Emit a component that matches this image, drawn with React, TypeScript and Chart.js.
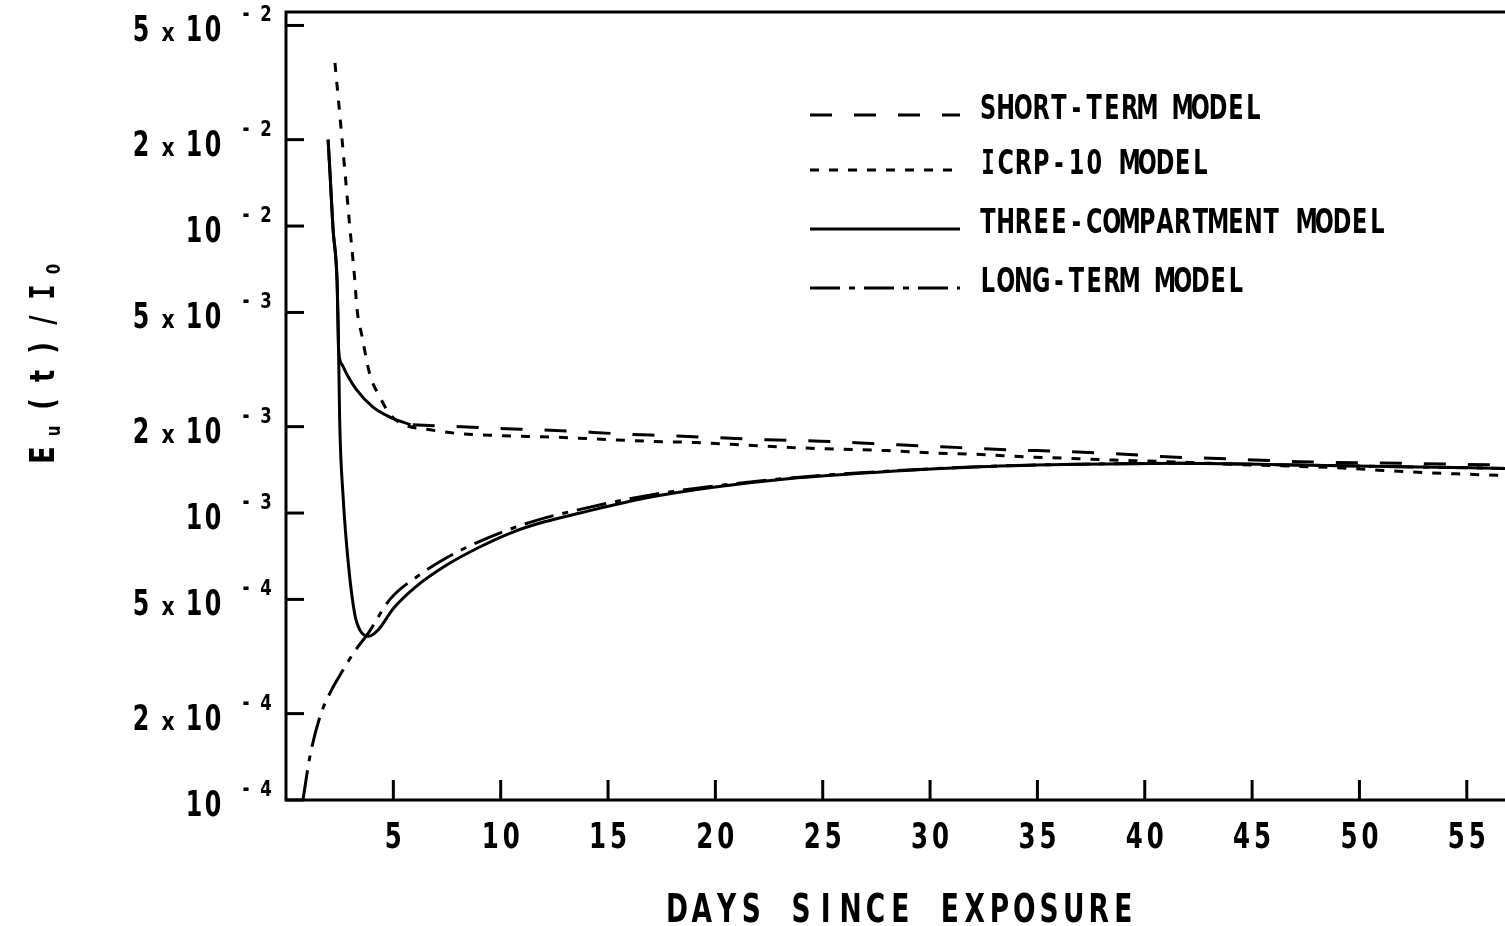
import React, { useEffect, useRef } from "react";
import { Chart, registerables } from "chart.js";

Chart.register(...registerables);

// ---------------- data ----------------
const xTickValues = [5, 10, 15, 20, 25, 30, 35, 40, 45, 50, 55];
const yTickValues = [1e-4, 2e-4, 5e-4, 1e-3, 2e-3, 5e-3, 1e-2, 2e-2, 5e-2];
const yTickMantissas = ["", "2", "5", "", "2", "5", "", "2", "5"];
const yTickExponents = ["4", "4", "4", "3", "3", "3", "2", "2", "2"];

const xTitle = "DAYS SINCE EXPOSURE";

const shortTermDays = [5.9, 8.7, 10.9, 13.2, 15.4, 17.7, 20.1, 22.4, 24.9, 27.0, 29.2, 31.4, 33.7, 36.2, 38.6, 41.0, 43.4, 47.2, 52.0, 56.8];
const shortTermValues = [2.03e-3, 1.99e-3, 1.96e-3, 1.93e-3, 1.89e-3, 1.86e-3, 1.83e-3, 1.8e-3, 1.78e-3, 1.75e-3, 1.72e-3, 1.69e-3, 1.66e-3, 1.64e-3, 1.61e-3, 1.57e-3, 1.55e-3, 1.51e-3, 1.49e-3, 1.47e-3];

const icrpDays = [2.28, 2.52, 2.75, 2.98, 3.21, 3.3, 3.55, 3.9, 4.38, 4.84, 5.45, 6.71, 8.1, 10.1, 12.3, 14.5, 16.8, 19.1, 21.1, 23.6, 25.8, 28.0, 30.1, 32.4, 34.4, 36.5, 38.5, 41.0, 45.0, 48.8, 52.4, 56.8];
const icrpValues = [3.7e-2, 2.38e-2, 1.53e-2, 9.8e-3, 6.4e-3, 5.2e-3, 4.1e-3, 3.05e-3, 2.53e-3, 2.21e-3, 2.04e-3, 1.95e-3, 1.89e-3, 1.86e-3, 1.84e-3, 1.81e-3, 1.78e-3, 1.76e-3, 1.73e-3, 1.69e-3, 1.67e-3, 1.65e-3, 1.62e-3, 1.6e-3, 1.57e-3, 1.55e-3, 1.53e-3, 1.51e-3, 1.47e-3, 1.44e-3, 1.39e-3, 1.35e-3];

const threeCompDays = [1.96, 2.05, 2.19, 2.38, 2.43, 2.5, 2.66, 2.9, 3.2, 3.45, 3.85, 4.3, 5.0, 6.0, 7.5, 9.0, 10.6, 12.0, 13.7, 16.8, 19.9, 23.5, 27.7, 32.3, 37.0, 41.6, 47.0, 52.0, 56.8];
const threeCompValues = [2.0e-2, 1.53e-2, 9.8e-3, 6.4e-3, 4.6e-3, 2.1e-3, 1.14e-3, 6.7e-4, 4.45e-4, 3.9e-4, 3.72e-4, 3.92e-4, 4.65e-4, 5.5e-4, 6.6e-4, 7.6e-4, 8.6e-4, 9.3e-4, 1.0e-3, 1.13e-3, 1.23e-3, 1.32e-3, 1.39e-3, 1.45e-3, 1.48e-3, 1.49e-3, 1.47e-3, 1.45e-3, 1.43e-3];

const threeCompBranchDays = [1.96, 2.05, 2.19, 2.38, 2.45, 2.6, 2.84, 3.3, 4.05, 4.84, 5.8];
const threeCompBranchValues = [2.0e-2, 1.53e-2, 9.8e-3, 6.4e-3, 3.7e-3, 3.3e-3, 3.04e-3, 2.68e-3, 2.34e-3, 2.16e-3, 2.03e-3];

const longTermDays = [0.79, 1.1, 1.58, 2.1, 2.65, 3.2, 3.82, 4.84, 6.24, 7.5, 9.0, 11.4, 13.7, 16.8, 19.9, 23.5, 27.7, 32.3, 37.0, 41.6, 47.0, 52.0, 56.8];
const longTermValues = [1.0e-4, 1.4e-4, 1.95e-4, 2.4e-4, 2.83e-4, 3.3e-4, 3.8e-4, 5.0e-4, 6.1e-4, 7.0e-4, 7.95e-4, 9.3e-4, 1.03e-3, 1.15e-3, 1.24e-3, 1.325e-3, 1.395e-3, 1.45e-3, 1.48e-3, 1.49e-3, 1.47e-3, 1.45e-3, 1.43e-3];

const legendLabels = ["SHORT-TERM MODEL", "ICRP-10 MODEL", "THREE-COMPARTMENT MODEL", "LONG-TERM MODEL"];

// ---------------- drawing helpers ----------------
const FONT = "'DejaVu Sans', 'Liberation Sans', Arial, sans-serif";
const SERIF_I_FONT = "'DejaVu Sans Mono', 'Liberation Mono', monospace";

function drawChars(
  ctx: CanvasRenderingContext2D,
  text: string,
  cx0: number,
  baseline: number,
  pitch: number,
  size: number,
  sx: number,
  serifI = false
) {
  ctx.textAlign = "center";
  ctx.textBaseline = "alphabetic";
  for (let i = 0; i < text.length; i++) {
    const ch = text[i];
    if (ch === " ") continue;
    ctx.font = serifI && ch === "I" ? `bold ${size}px ${SERIF_I_FONT}` : `bold ${size}px ${FONT}`;
    ctx.save();
    ctx.translate(cx0 + i * pitch, baseline);
    ctx.scale(sx, 1);
    ctx.fillText(ch, 0, 0);
    ctx.restore();
  }
}

const pts = (days: number[], vals: number[]) => days.map((d, i) => ({ x: d, y: vals[i] }));

const decorations = {
  id: "decorations",
  afterDraw(chart: any) {
    const ctx: CanvasRenderingContext2D = chart.ctx;
    const xs = chart.scales.x;
    const ys = chart.scales.y;
    const { left, right, top, bottom } = chart.chartArea;
    ctx.save();
    ctx.strokeStyle = "#000";
    ctx.fillStyle = "#000";
    ctx.lineWidth = 3;
    ctx.setLineDash([]);
    // frame (top, left, bottom)
    ctx.beginPath();
    ctx.moveTo(right, top);
    ctx.lineTo(left, top);
    ctx.lineTo(left, bottom);
    ctx.lineTo(right, bottom);
    ctx.stroke();

    // y ticks + labels
    yTickValues.forEach((v, i) => {
      const ty = ys.getPixelForValue(v);
      ctx.beginPath();
      ctx.moveTo(left, ty);
      ctx.lineTo(left + 18, ty);
      ctx.stroke();
      const m = yTickMantissas[i];
      if (m) {
        drawChars(ctx, m, 141, ty + 16, 0, 36, 0.66);
        drawChars(ctx, "x", 168, ty + 16, 0, 24, 0.85);
      }
      drawChars(ctx, "10", 194, ty + 16, 19, 36, 0.66);
      drawChars(ctx, "-", 246, ty - 4, 0, 24, 0.7);
      drawChars(ctx, yTickExponents[i], 266, ty - 4, 0, 22, 0.75);
    });

    // x ticks + labels
    xTickValues.forEach((v) => {
      const px = xs.getPixelForValue(v);
      ctx.beginPath();
      ctx.moveTo(px, bottom);
      ctx.lineTo(px, bottom - 20);
      ctx.stroke();
      const s = String(v);
      const pitch = 21;
      drawChars(ctx, s, px - ((s.length - 1) * pitch) / 2, 848, pitch, 36, 0.68);
    });

    // x title
    drawChars(ctx, xTitle, 677, 922, 24.8, 39, 0.68);

    // y title (rotated)
    const yItems = [
      { ch: "E", pos: 455, sub: false },
      { ch: "u", pos: 431, sub: true },
      { ch: "(", pos: 404, sub: false },
      { ch: "t", pos: 376, sub: false },
      { ch: ")", pos: 348, sub: false },
      { ch: "/", pos: 320, sub: false },
      { ch: "I", pos: 292, sub: false },
      { ch: "0", pos: 269, sub: true },
    ];
    ctx.textAlign = "center";
    ctx.textBaseline = "alphabetic";
    yItems.forEach((it) => {
      ctx.save();
      ctx.translate(it.sub ? 60 : 54, it.pos);
      ctx.rotate(-Math.PI / 2);
      ctx.scale(0.75, 1);
      ctx.font = it.ch === "I" ? `bold 34px ${SERIF_I_FONT}` : `bold ${it.sub ? 20 : 34}px ${FONT}`;
      ctx.fillText(it.ch, 0, 0);
      ctx.restore();
    });

    // legend
    const rowBaselines = [118, 173, 232, 291];
    const legendSets = chart.data.datasets.filter((d: any) => d.inLegend);
    legendSets.forEach((ds: any, i: number) => {
      const b = rowBaselines[i];
      ctx.save();
      ctx.lineWidth = 3;
      ctx.setLineDash(ds.borderDash || []);
      ctx.beginPath();
      ctx.moveTo(810, b - 3);
      ctx.lineTo(960, b - 3);
      ctx.stroke();
      ctx.restore();
      drawChars(ctx, ds.label, 988, b + 1, 17.7, 33, 0.68, true);
    });
    ctx.restore();
  },
};

export default function App() {
  const canvasRef = useRef<HTMLCanvasElement | null>(null);

  useEffect(() => {
    const canvas = canvasRef.current;
    if (!canvas) return;
    const common = {
      borderColor: "#000",
      borderWidth: 3,
      pointRadius: 0,
      fill: false,
      cubicInterpolationMode: "monotone" as const,
      borderCapStyle: "butt" as const,
      borderJoinStyle: "round" as const,
    };
    const chart = new Chart(canvas, {
      type: "line",
      data: {
        datasets: [
          { ...common, label: legendLabels[0], inLegend: true, data: pts(shortTermDays, shortTermValues), borderDash: [22, 22] },
          { ...common, label: legendLabels[1], inLegend: true, data: pts(icrpDays, icrpValues), borderDash: [9, 10] },
          { ...common, label: legendLabels[2], inLegend: true, data: pts(threeCompDays, threeCompValues), borderDash: [] },
          { ...common, label: "", inLegend: false, data: pts(threeCompBranchDays, threeCompBranchValues), borderDash: [] },
          { ...common, label: legendLabels[3], inLegend: true, data: pts(longTermDays, longTermValues), borderDash: [30, 9, 6, 9] },
        ] as any,
      },
      options: {
        animation: false,
        responsive: false,
        devicePixelRatio: 1,
        layout: { padding: { left: 286, right: 0, top: 12, bottom: 126 } },
        scales: {
          x: { type: "linear", min: 0, max: 56.78, display: false },
          y: { type: "logarithmic", min: 1e-4, max: 0.0557, display: false },
        },
        plugins: { legend: { display: false }, tooltip: { enabled: false } },
      },
      plugins: [decorations],
    });
    return () => chart.destroy();
  }, []);

  return (
    <div style={{ position: "absolute", left: 0, top: 0, width: 1505, height: 926, background: "#fff" }}>
      <canvas ref={canvasRef} width={1505} height={926} style={{ display: "block", width: 1505, height: 926 }} />
    </div>
  );
}
